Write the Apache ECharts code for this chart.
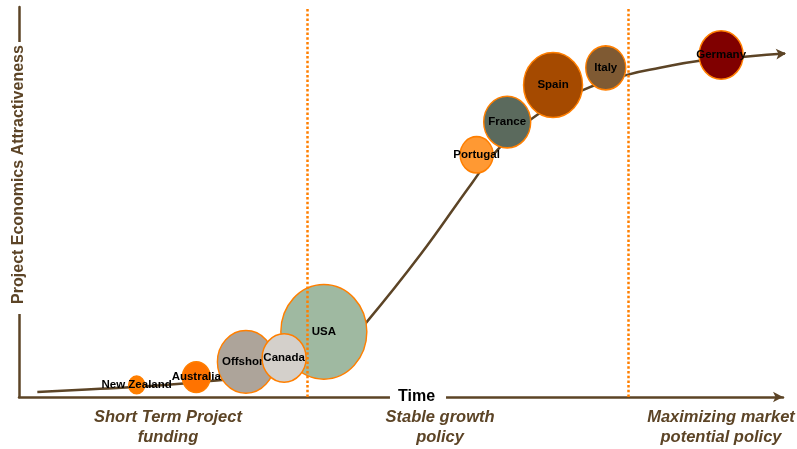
<!DOCTYPE html>
<html>
<head>
<meta charset="utf-8">
<style>
  html, body { margin: 0; padding: 0; background: #fff; }
  #myChart { width: 797px; height: 449px; }
</style>
<script src="https://cdn.jsdelivr.net/npm/echarts@6/dist/echarts.min.js"></script>
</head>
<body>
<div id="myChart"></div>
<script>
/*----------数据--------*/
var countries = ['New Zealand', 'Australia', 'Offshore', 'Canada', 'USA', 'Portugal', 'France', 'Spain', 'Italy', 'Germany'];
var timePos = [15.4, 23.2, 29.7, 34.7, 39.9, 59.9, 63.9, 69.9, 76.8, 91.9];
var attractiveness = [3.1, 5.1, 9.0, 10.0, 16.7, 62.1, 70.5, 80.0, 84.4, 87.7];
var marketSize = [16, 28, 57, 44, 86, 33, 47, 59, 40, 44];

// S 曲线
var curveX = [2.4, 10.6, 17.1, 25.0, 31.0, 37.5, 42.0, 45.5, 52.5, 59.3, 62.6, 67.8, 73.8, 79.6, 83.9, 89.1, 95.7, 100.4];
var curveY = [1.3, 2.1, 2.8, 4.1, 5.3, 7.6, 11.8, 19.2, 36.4, 54.9, 63.3, 72.3, 78.7, 82.6, 84.4, 86.2, 87.4, 88.1];

var phaseBreaks = [37.7, 79.7];
var phaseNames = ['Short Term Project\nfunding', 'Stable growth\npolicy', 'Maximizing market\npotential policy'];

/*----------样式--------*/
var bubbleColors = ['#FF7F00', '#FF7300', '#ADA49A', '#D4D0CB', '#9FB9A1', '#FF9933', '#5B6A5D', '#A54A00', '#7F5A33', '#800000'];
var brown = '#5C4426';

function bubbleItem(i) {
    return {
        name: countries[i],
        value: [timePos[i], attractiveness[i], marketSize[i]],
        itemStyle: { color: bubbleColors[i] }
    };
}

var curveData = curveX.map(function (x, i) {
    var item = { value: [x, curveY[i]], symbol: 'none' };
    if (i === curveX.length - 1) {
        item.symbol = 'arrow';   /*末端箭头*/
        item.symbolSize = [8, 10];
        item.symbolRotate = -86;
    }
    return item;
});

// Canada 画在最上层, 盖住 Offshore 的标签
var backBubbles = [], frontBubbles = [];
for (var i = 0; i < countries.length; i++) {
    if (countries[i] === 'Canada') frontBubbles.push(bubbleItem(i));
    else backBubbles.push(bubbleItem(i));
}

var bubbleStyle = {
    type: 'scatter',
    clip: false,
    symbolSize: function (v) { return [v[2], v[2] * 1.1]; },
    itemStyle: { borderColor: '#FF7F00', borderWidth: 1.5, opacity: 1 },
    label: {
        show: true,
        position: 'inside',
        formatter: '{b}',
        color: '#000',
        fontFamily: 'Liberation Sans',
        fontWeight: 'bold',
        fontSize: 11.5
    },
    emphasis: { disabled: true }
};

var phaseFont = 'italic bold 16.5px "Liberation Sans"';

var myChart = echarts.init(document.getElementById('myChart'));
myChart.setOption({
    animation: false,
    grid: { left: 19, right: 14, top: 7, bottom: 52 },
    xAxis: {
        type: 'value', min: 0, max: 100,
        axisLine: { show: true, symbol: ['none', 'arrow'], symbolSize: [8, 10], lineStyle: { color: brown, width: 2.5 } },
        axisTick: { show: false }, axisLabel: { show: false }, splitLine: { show: false }
    },
    yAxis: {
        type: 'value', min: 0, max: 100,
        axisLine: { show: true, lineStyle: { color: brown, width: 2.5 } },
        axisTick: { show: false }, axisLabel: { show: false }, splitLine: { show: false }
    },
    series: [
        {
            type: 'line',
            z: 2,
            clip: false,
            smooth: 0.45,
            showSymbol: true,
            data: curveData,
            lineStyle: { color: brown, width: 2.5 },
            itemStyle: { color: brown },
            emphasis: { disabled: true },
            markLine: {
                silent: true,
                symbol: 'none',
                label: { show: false },
                lineStyle: { color: '#FF7F00', width: 2.5, type: [2.5, 2.2] },
                data: phaseBreaks.map(function (x) { return { xAxis: x }; })
            }
        },
        Object.assign({ z: 3, data: backBubbles }, bubbleStyle),
        Object.assign({ z: 4, data: frontBubbles }, bubbleStyle)
    ],
    graphic: [
        {
            type: 'text', x: 418, y: 397, z: 100,
            style: {
                text: 'Time', fill: '#000', font: 'bold 16px "Liberation Sans"',
                align: 'center', verticalAlign: 'middle',
                backgroundColor: '#fff', padding: [0, 11, 0, 8]
            }
        },
        {
            type: 'text', x: 19, y: 178, rotation: Math.PI / 2, z: 100,
            style: {
                text: 'Project Economics Attractiveness', fill: brown, font: 'bold 16px "Liberation Sans"',
                align: 'center', verticalAlign: 'middle',
                backgroundColor: '#fff', padding: [0, 3, 0, 10]
            }
        },
        {
            type: 'text', x: 168, y: 407, z: 100,
            style: { text: phaseNames[0], fill: brown, font: phaseFont, align: 'center', lineHeight: 20 }
        },
        {
            type: 'text', x: 440, y: 407, z: 100,
            style: { text: phaseNames[1], fill: brown, font: phaseFont, align: 'center', lineHeight: 20 }
        },
        {
            type: 'text', x: 721, y: 407, z: 100,
            style: { text: phaseNames[2], fill: brown, font: phaseFont, align: 'center', lineHeight: 20 }
        }
    ]
});
</script>
</body>
</html>
